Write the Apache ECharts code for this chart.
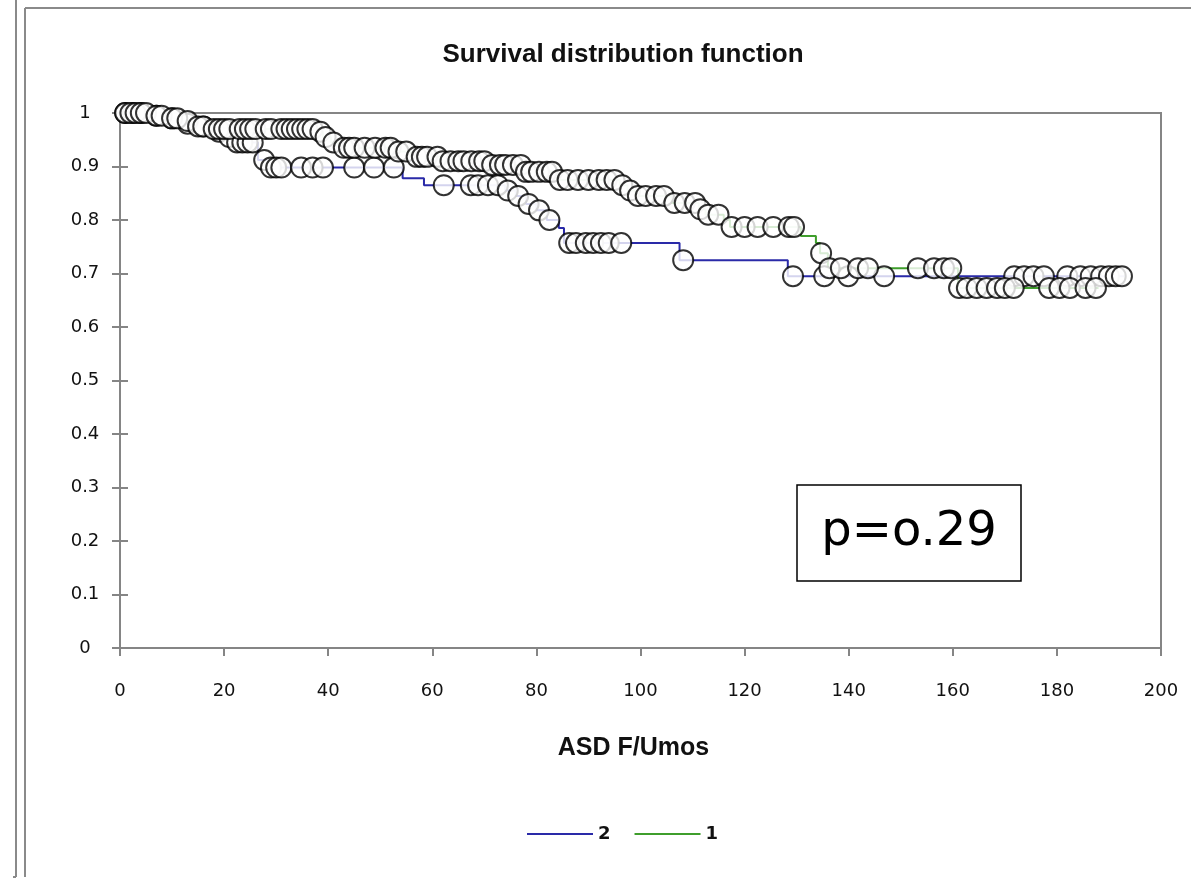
<!DOCTYPE html>
<html>
<head>
<meta charset="utf-8">
<title>Survival distribution function</title>
<script src="https://cdn.jsdelivr.net/npm/echarts@6/dist/echarts.min.js"></script>
<style>
  html, body { margin: 0; padding: 0; background: #ffffff; }
  #chart { width: 1191px; height: 881px; }
</style>
</head>
<body>
<div id="chart"></div>
<script>
// Kaplan-Meier estimates: [time, survival after the step]
const group2Steps = [
  [0, 1], [6, 0.995], [9, 0.99], [12, 0.98], [15, 0.975], [18, 0.965], [20, 0.955],
  [22, 0.945], [26.5, 0.912], [28.5, 0.898], [54.3, 0.878], [58.4, 0.865],
  [74, 0.855], [76, 0.845], [78, 0.83], [80, 0.818], [82, 0.8], [84.3, 0.785],
  [85.3, 0.757], [107.5, 0.725], [128.3, 0.695], [193, 0.695]
];
const group1Steps = [
  [0, 1], [6, 0.995], [9, 0.99], [12, 0.985], [14, 0.975], [17, 0.97], [38, 0.965],
  [39, 0.955], [40.5, 0.945], [42, 0.935], [53, 0.928], [56, 0.918], [61.5, 0.91],
  [71, 0.903], [77.5, 0.89], [84, 0.875], [96, 0.865], [97.5, 0.855], [99, 0.845],
  [106, 0.832], [111.2, 0.82], [112.5, 0.81], [116, 0.8], [117.2, 0.787],
  [130.8, 0.77], [133.7, 0.757], [134.5, 0.738], [136, 0.71], [161, 0.673],
  [188, 0.673]
];

// Censoring times (marks sit on each curve)
const group2Censored = [
  1, 2.5, 4, 7, 10, 13, 16, 19, 21, 22.5, 23.5, 24.5, 25.5, 27.7,
  29, 30, 31, 34.8, 37, 39, 45, 48.8, 52.6, 62.2, 67.4, 68.8, 70.7, 72.6,
  74.5, 76.5, 78.5, 80.5, 82.5, 86.3, 87.6, 89.5, 90.9, 92.4, 93.9, 96.3,
  108.2, 129.3, 135.3, 139.9, 146.8, 171.8, 173.7, 175.5, 177.5, 182, 184.5,
  186.5, 188.5, 190, 191.3, 192.5
];
const group1Censored = [
  1, 2, 3, 4, 5, 7, 8, 10, 11, 13, 15, 16, 18, 19, 20, 21, 23, 24, 25, 26, 28,
  29, 31, 32, 33, 34, 35, 36, 37, 38.5, 39.5, 41, 43, 44, 45, 47, 49, 51, 52,
  53.5, 55, 57, 58, 59, 61, 62, 63.5, 65, 66, 67.5, 69, 70, 71.5, 73, 74, 75.5,
  77, 78, 79, 80.5, 82, 83, 84.5, 86, 88, 90, 92, 93.5, 95, 96.5, 98, 99.5, 101,
  103, 104.5, 106.5, 108.5, 110.5, 111.5, 113, 115, 117.5, 120, 122.5, 125.5,
  128.5, 129.5, 134.7, 136.3, 138.5, 141.8, 143.7, 153.3, 156.4, 158.3, 159.7,
  161.2, 162.7, 164.6, 166.5, 168.5, 170, 171.7, 178.5, 180.5, 182.5, 185.5, 187.5
];

const xTicks = { min: 0, max: 200, interval: 20 };
const yTicks = { min: 0, max: 1, interval: 0.1 };
const pValueText = 'p=o.29';

// Survival level of a step curve at time t
function levelAt(steps, t) {
  let s = steps[0][1];
  for (const [time, val] of steps) {
    if (time <= t) s = val; else break;
  }
  return s;
}
const marks = (steps, times) => times.map(t => [t, levelAt(steps, t)]);

const BLUE = '#2a2aa8';
const GREEN = '#3f9e2c';
const AXIS_GRAY = '#858585';
const TEXT = '#111111';
const LABEL_FONT = 'DejaVu Sans';
const HEAD_FONT = 'Liberation Sans';

const chart = echarts.init(document.getElementById('chart'), null, { renderer: 'canvas' });

const grid = { left: 120, right: 30, top: 113, bottom: 233, show: true,
  borderColor: AXIS_GRAY, borderWidth: 2, backgroundColor: 'transparent' };

const baseX = {
  type: 'value', min: xTicks.min, max: xTicks.max, interval: xTicks.interval,
  splitLine: { show: false }
};
const baseY = {
  type: 'value', min: yTicks.min, max: yTicks.max, interval: yTicks.interval,
  splitLine: { show: false }
};

const censorStyle = { color: '#ffffff', borderColor: '#000000', borderWidth: 2 };

chart.setOption({
  animation: false,
  backgroundColor: '#ffffff',
  title: {
    text: 'Survival distribution function',
    left: 618, top: 37, textAlign: 'center',
    textStyle: { fontFamily: HEAD_FONT, fontWeight: 'bold', fontSize: 26, color: TEXT }
  },
  grid: grid,
  legend: {
    data: ['2', '1'],
    top: 820, left: 522,
    icon: 'rect', itemWidth: 66, itemHeight: 2, itemGap: 24,
    textStyle: { fontFamily: LABEL_FONT, fontWeight: 'bold', fontSize: 18, color: TEXT }
  },
  xAxis: [
    Object.assign({}, baseX, {
      name: 'ASD F/Umos', nameLocation: 'middle', nameGap: 88,
      nameTextStyle: { fontFamily: HEAD_FONT, fontWeight: 'bold', fontSize: 25, color: TEXT,
        padding: [0, 14, 0, 0] },
      axisLine: { lineStyle: { color: AXIS_GRAY, width: 2 } },
      axisTick: { inside: false, length: 8, lineStyle: { color: AXIS_GRAY, width: 2 } },
      axisLabel: { margin: 34, fontFamily: LABEL_FONT, fontSize: 18, color: TEXT }
    }),
    Object.assign({}, baseX, {
      axisLine: { show: false },
      axisTick: { inside: true, length: 8, lineStyle: { color: AXIS_GRAY, width: 2 } },
      axisLabel: { show: false }
    })
  ],
  yAxis: [
    Object.assign({}, baseY, {
      axisLine: { show: true, lineStyle: { color: AXIS_GRAY, width: 2 } },
      axisTick: { show: true, inside: false, length: 8, lineStyle: { color: AXIS_GRAY, width: 2 } },
      axisLabel: { margin: 35, align: 'center', fontFamily: LABEL_FONT, fontSize: 18, color: TEXT }
    }),
    Object.assign({}, baseY, {
      position: 'left',
      axisLine: { show: false },
      axisTick: { show: true, inside: true, length: 8, lineStyle: { color: AXIS_GRAY, width: 2 } },
      axisLabel: { show: false }
    })
  ],
  series: [
    {
      name: '2', type: 'line', step: 'end', data: group2Steps,
      symbol: 'none', lineStyle: { color: BLUE, width: 2 }, itemStyle: { color: BLUE }, z: 2
    },
    {
      name: '1', type: 'line', step: 'end', data: group1Steps,
      symbol: 'none', lineStyle: { color: GREEN, width: 2 }, itemStyle: { color: GREEN }, z: 2
    },
    {
      name: '2 censored', type: 'scatter', data: marks(group2Steps, group2Censored),
      symbol: 'circle', symbolSize: 20, itemStyle: censorStyle, z: 3
    },
    {
      name: '1 censored', type: 'scatter', data: marks(group1Steps, group1Censored),
      symbol: 'circle', symbolSize: 20, itemStyle: censorStyle, z: 3
    }
  ],
  graphic: [
    // outer chart frame
    { type: 'line', shape: { x1: 16, y1: 0, x2: 16, y2: 877 }, style: { stroke: '#8a8a8a', lineWidth: 2 } },
    { type: 'line', shape: { x1: 13, y1: 877, x2: 16, y2: 877 }, style: { stroke: '#8a8a8a', lineWidth: 2 } },
    { type: 'line', shape: { x1: 25, y1: 8, x2: 25, y2: 877 }, style: { stroke: '#8a8a8a', lineWidth: 2 } },
    { type: 'line', shape: { x1: 25, y1: 8, x2: 1191, y2: 8 }, style: { stroke: '#8a8a8a', lineWidth: 2 } },
    // p-value box
    { type: 'rect', shape: { x: 797, y: 485, width: 224, height: 96 },
      style: { fill: '#ffffff', stroke: '#000000', lineWidth: 1.5 }, z: 10 },
    { type: 'text', x: 909, y: 533, z: 11,
      style: { text: pValueText, fontFamily: 'DejaVu Sans', fontSize: 48, fill: '#000000',
        textAlign: 'center', textVerticalAlign: 'middle' } }
  ]
});
</script>
</body>
</html>
